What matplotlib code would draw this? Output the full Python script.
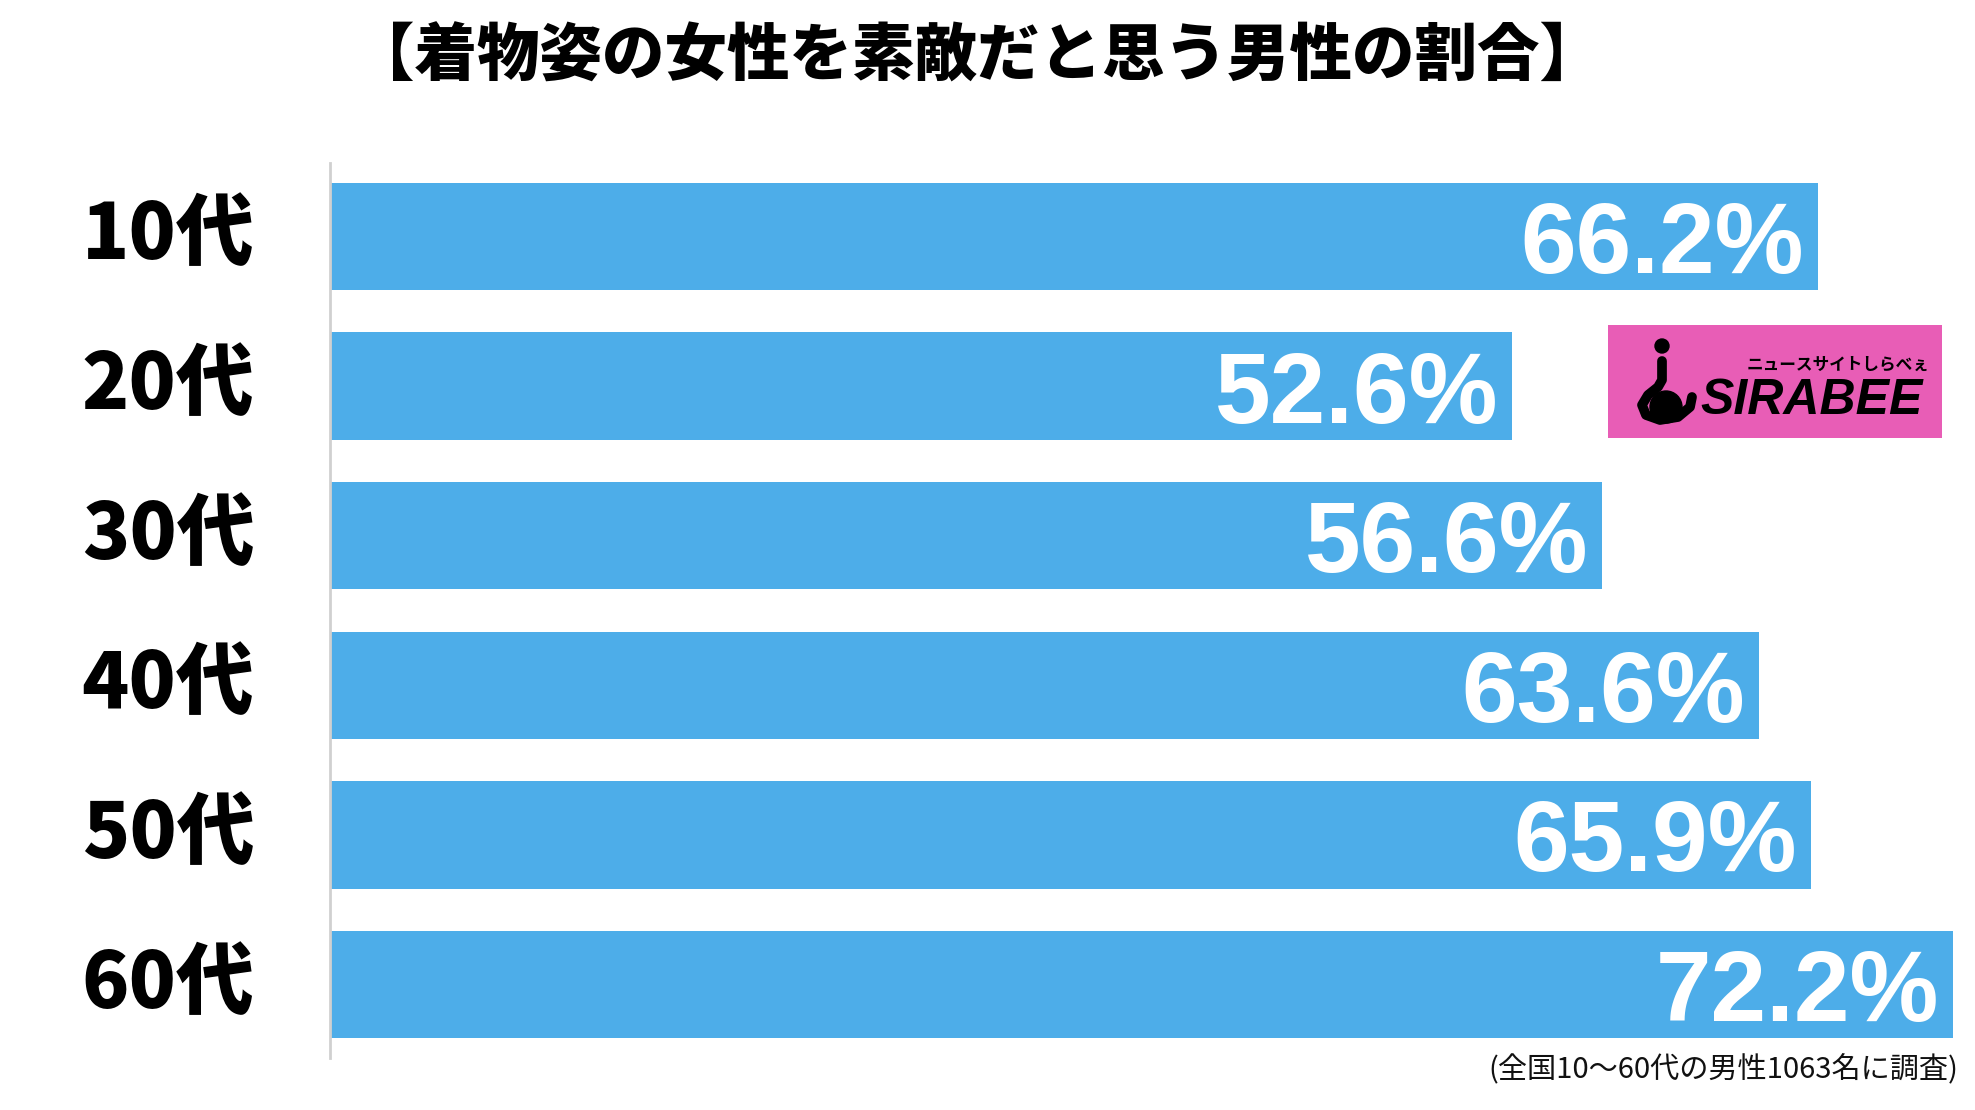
import matplotlib
matplotlib.use("Agg")
import matplotlib.pyplot as plt
from matplotlib.patches import Rectangle, Circle
from matplotlib.transforms import blended_transform_factory

categories = ["10代", "20代", "30代", "40代", "50代", "60代"]
values = [66.2, 52.6, 56.6, 63.6, 65.9, 72.2]
value_labels = ["66.2%", "52.6%", "56.6%", "63.6%", "65.9%", "72.2%"]
title = "【着物姿の女性を素敵だと思う男性の割合】"
footnote = "(全国10～60代の男性1063名に調査)"

W, H = 1975, 1110
fig = plt.figure(figsize=(W / 100, H / 100), dpi=100)
fig.patch.set_facecolor("white")

JP = ["Noto Sans CJK JP", "DejaVu Sans"]
BAR = "#4DADE9"

# main axes (pixel layout)
left, right, top, bottom = 330, 1975, 163, 1058
ax = fig.add_axes([left / W, 1 - bottom / H, (right - left) / W, (bottom - top) / H])
ypos = list(range(len(categories)))
ax.barh(ypos, values, height=0.715, color=BAR, zorder=2)
ax.set_xlim(0, 73.2)
ax.set_ylim(len(categories) - 0.51, -0.49)
for s in ["top", "right", "bottom"]:
    ax.spines[s].set_visible(False)
ax.spines["left"].set_color("#d0d0d0")
ax.spines["left"].set_linewidth(2)
ax.set_xticks([])
ax.set_yticks([])

trans = blended_transform_factory(ax.transAxes, ax.transData)
for y, c in zip(ypos, categories):
    ax.text(-0.0985, y, c, transform=trans, ha="center", va="center",
            fontsize=56, fontweight="black", family=JP, color="black")

for y, v, lab in zip(ypos, values, value_labels):
    ax.annotate(lab, xy=(v, y), xytext=(-10, 0), textcoords="offset points",
                ha="right", va="center_baseline", fontsize=72, fontweight="bold",
                family=["Liberation Sans", "DejaVu Sans"], color="white", zorder=3)

fig.text(977 / W, 1 - 57 / H, title, ha="center", va="center",
         fontsize=45, fontweight="black", family=JP, color="black")
fig.text(1958 / W, 1 - 1070 / H, footnote, ha="right", va="center",
         fontsize=21, family=JP, color="#111111")

# logo
lx0, ly0, lx1, ly1 = 1608, 325, 1942, 438
lax = fig.add_axes([lx0 / W, 1 - ly1 / H, (lx1 - lx0) / W, (ly1 - ly0) / H])
lax.set_xlim(0, lx1 - lx0)
lax.set_ylim(ly1 - ly0, 0)
lax.set_facecolor("#E85DB6")
for s in lax.spines.values():
    s.set_visible(False)
lax.set_xticks([])
lax.set_yticks([])
lax.add_patch(Circle((54, 21), 7, color="black"))
lax.plot([54, 54, 50, 40, 34, 38, 52, 70, 82, 84], [36, 55, 62, 70, 80, 90, 95, 92, 82, 72],
         color="black", lw=7, solid_capstyle="round")
lax.add_patch(Circle((58, 82), 16, color="black"))
lax.text(92, 76, "SIRABEE", ha="left", va="center", fontsize=36, fontweight="black",
         style="italic", family=["Liberation Sans", "DejaVu Sans"], color="black")
lax.text(139, 40, "ニュースサイトしらべぇ", ha="left", va="center", fontsize=12,
         fontweight="bold", family=JP, color="black")

fig.savefig("out.png", dpi=100, facecolor="white")
